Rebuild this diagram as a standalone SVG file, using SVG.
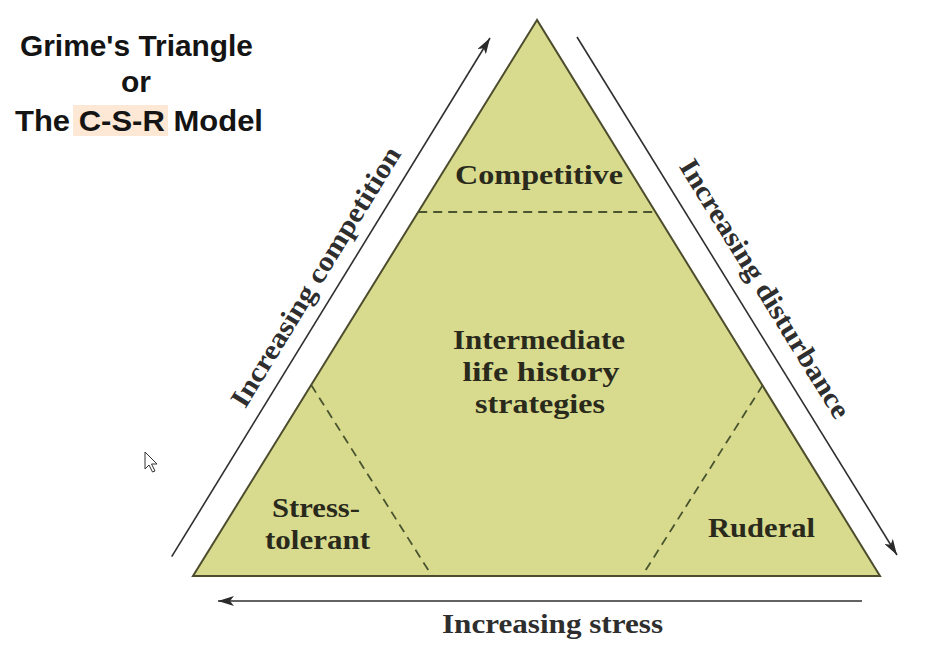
<svg xmlns="http://www.w3.org/2000/svg" width="942" height="657" viewBox="0 0 942 657">
  <defs>
    <marker id="arrow" viewBox="0 0 16 10" refX="16" refY="5" markerUnits="userSpaceOnUse" markerWidth="16" markerHeight="10" orient="auto">
      <path d="M0,0 L16,5 L0,10 L4,5 z" fill="#2b2b2b"/>
    </marker>
  </defs>
  <style>
    .title { font-family: "Liberation Sans", Arial, sans-serif; font-weight: bold; font-size: 30px; fill: #141414; text-anchor: middle; }
    .lbl { font-family: "Liberation Serif", "Times New Roman", serif; font-weight: bold; font-size: 28px; fill: #2a2a1c; text-anchor: middle; }
    .axis { font-family: "Liberation Serif", "Times New Roman", serif; font-weight: bold; font-size: 28px; fill: #2e2e2e; text-anchor: middle; }
    .region { fill: #d8db8e; stroke: none; }
    .dash { fill: none; stroke: #4a5530; stroke-width: 1.8; stroke-dasharray: 9 6; }
    .outline { fill: none; stroke: #4d4d2e; stroke-width: 2; stroke-linejoin: miter; }
    .arr { fill: none; stroke: #2f2f2f; stroke-width: 1.6; }
  </style>

  <rect x="0" y="0" width="942" height="657" fill="#ffffff"/>

  <g id="title">
    <rect x="73" y="105" width="95" height="31" fill="#fce8d5"/>
    <text class="title" x="136.5" y="56" textLength="233" lengthAdjust="spacingAndGlyphs">Grime's Triangle</text>
    <text class="title" x="136" y="92">or</text>
    <text class="title" x="139" y="131" textLength="248" lengthAdjust="spacingAndGlyphs">The C-S-R Model</text>
  </g>

  <g id="triangle">
    <polygon class="region" points="537,20 193,576 880,576"/>
  </g>

  <g id="competitive">
    <polygon class="region" points="537,20 418.2,212 655.8,212"/>
    <text class="lbl" x="539" y="184" textLength="168" lengthAdjust="spacingAndGlyphs">Competitive</text>
  </g>

  <g id="intermediate">
    <polygon class="region" points="418.2,212 655.8,212 762.8,385 642,576 432,576 311.2,385"/>
    <text class="lbl" x="539" y="349" textLength="172" lengthAdjust="spacingAndGlyphs">Intermediate</text>
    <text class="lbl" x="541" y="381" textLength="157" lengthAdjust="spacingAndGlyphs">life history</text>
    <text class="lbl" x="540" y="413" textLength="130" lengthAdjust="spacingAndGlyphs">strategies</text>
  </g>

  <g id="stress-tolerant">
    <polygon class="region" points="193,576 311.2,385 432,576"/>
    <text class="lbl" x="316" y="517" textLength="88" lengthAdjust="spacingAndGlyphs">Stress-</text>
    <text class="lbl" x="317.5" y="549" textLength="105" lengthAdjust="spacingAndGlyphs">tolerant</text>
  </g>

  <g id="ruderal">
    <polygon class="region" points="880,576 762.8,385 642,576"/>
    <text class="lbl" x="761.5" y="537" textLength="107" lengthAdjust="spacingAndGlyphs">Ruderal</text>
  </g>

  <g id="boundaries">
    <line class="dash" x1="418.2" y1="212" x2="655.8" y2="212"/>
    <line class="dash" x1="311.2" y1="385" x2="432" y2="576"/>
    <line class="dash" x1="762.8" y1="385" x2="642" y2="576"/>
    <polygon class="outline" points="537,20 193,576 880,576"/>
  </g>

  <g id="connectors">
    <line class="arr" x1="171.7" y1="556.7" x2="490" y2="38" marker-end="url(#arrow)"/>
    <line class="arr" x1="577" y1="37" x2="897" y2="555" marker-end="url(#arrow)"/>
    <line class="arr" x1="862" y1="601" x2="218" y2="601" stroke="#555" stroke-width="2.2" marker-end="url(#arrow)"/>
    <text class="axis" transform="translate(323.5,281.5) rotate(-58.5)" textLength="300" lengthAdjust="spacingAndGlyphs">Increasing competition</text>
    <text class="axis" transform="translate(757,293.5) rotate(58.3)" textLength="299" lengthAdjust="spacingAndGlyphs">Increasing disturbance</text>
    <text class="axis" x="552.5" y="633" textLength="221" lengthAdjust="spacingAndGlyphs">Increasing stress</text>
  </g>

  <g id="cursor">
    <polygon points="145,452 145,469 149,465 152.5,472 155,471 151.5,464 157,464" fill="#ffffff" stroke="#333" stroke-width="1" stroke-linejoin="round"/>
  </g>
</svg>
